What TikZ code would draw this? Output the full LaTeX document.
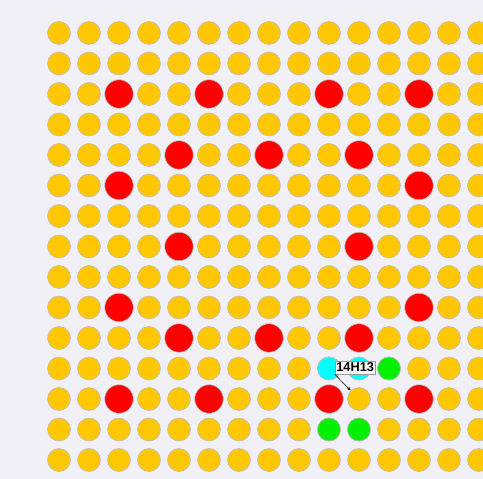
\documentclass[tikz,border=0pt]{standalone}
\usepackage{fontspec}
\setmainfont{Liberation Sans}
\usetikzlibrary{arrows.meta}
\definecolor{bg}{RGB}{241,240,246}
\definecolor{dotyellow}{RGB}{255,199,0}
\definecolor{dotred}{RGB}{255,0,0}
\definecolor{dotcyan}{RGB}{0,255,255}
\definecolor{dotgreen}{RGB}{0,240,0}
\definecolor{rimgray}{RGB}{190,190,190}
\definecolor{tagfill}{RGB}{248,248,248}
\tikzset{
  dot/.style={circle, draw=rimgray, line width=0.6pt, inner sep=0pt, minimum size=23pt, fill=dotyellow},
  bigdot/.style={dot, minimum size=28.5pt, fill=dotred},
  cyandot/.style={dot, fill=dotcyan},
  greendot/.style={dot, fill=dotgreen},
  tag/.style={draw=gray!80, fill=tagfill, inner xsep=1.5pt, inner ysep=1.8pt, font=\bfseries\fontsize{12.8}{14}\selectfont},
  pointer/.style={-{Stealth[length=4pt,width=3pt]}, line width=0.5pt, black}
}
\begin{document}
\begin{tikzpicture}[x=1pt,y=-1pt]
\fill[bg] (0,0) rectangle (483,479);
\useasboundingbox (0,0) rectangle (483,479);
% grid of yellow dots
\foreach \r in {0,...,14}{
  \foreach \c in {0,...,14}{
    \node[dot] (d-\r-\c) at ({59+30*\c},{33+30.5*\r}) {};
  }
}
% red dots
\foreach \r/\c in {2/2,2/5,2/9,2/12,4/4,4/7,4/10,5/2,5/12,7/4,7/10,9/2,9/12,10/4,10/7,10/10,12/2,12/5,12/9,12/12}{
  \node[bigdot] (r-\r-\c) at ({59+30*\c},{33+30.5*\r}) {};
}
% cyan and green dots
\node[cyandot] (cy1) at ({59+30*9},{33+30.5*11}) {};
\node[cyandot] (cy2) at ({59+30*10},{33+30.5*11}) {};
\node[greendot] (g1) at ({59+30*11},{33+30.5*11}) {};
\node[greendot] (g2) at ({59+30*9},{33+30.5*13}) {};
\node[greendot] (g3) at ({59+30*10},{33+30.5*13}) {};
% label
\node[tag] (lbl) at (355.2,367.6) {14H13};
\draw[pointer] (lbl.south west) -- (d-12-10);
\end{tikzpicture}
\end{document}
